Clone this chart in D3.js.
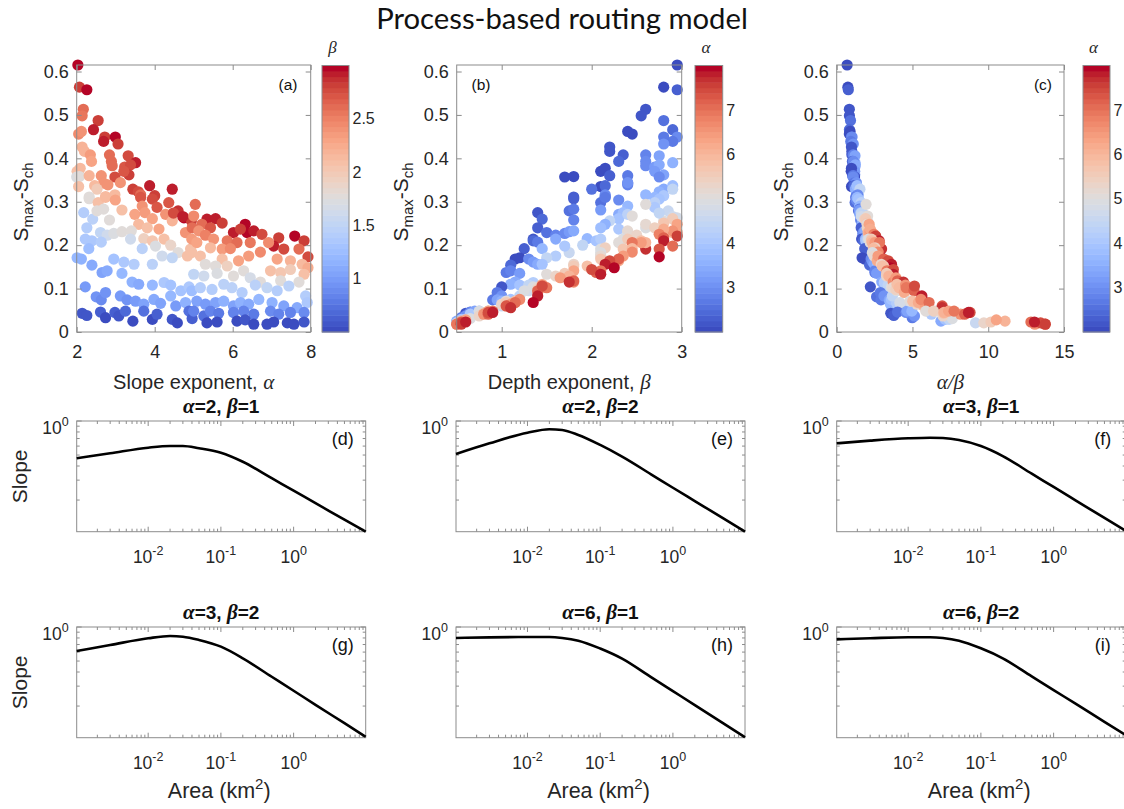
<!DOCTYPE html>
<html>
<head>
<meta charset="utf-8">
<script src="https://cdn.jsdelivr.net/npm/d3@7"></script>
<style>
  body { margin: 0; background: #fff; }
</style>
</head>
<body>
<svg width="1124" height="809"></svg>
<script>
// scatter data: slope exponent (alpha), depth exponent (beta), Smax - Sch
var slopeExp = [
  2.03,2.07,2.26,2.17,2.14,2.55,2.43,2.05,2.12,2.72,2.99,2.69,3.06,2.14,2.20,2.35,2.84,3.32,3.51,2.38,
  2.89,2.91,3.23,3.38,3.34,3.21,2.01,2.09,2.00,2.07,2.32,2.63,2.98,2.69,2.80,3.12,2.05,2.46,2.52,3.44,
  3.58,3.64,3.87,4.00,4.45,2.32,2.74,2.98,
  2.32,2.55,2.74,2.99,3.64,3.94,4.36,4.06,3.68,4.60,4.75,4.94,2.18,2.41,2.52,2.69,2.84,3.16,3.49,3.75,
  3.94,4.28,4.45,3.59,3.81,4.11,4.79,4.96,2.26,2.61,2.78,2.95,3.16,3.40,2.22,2.39,2.63,3.38,3.72,3.94,
  4.24,4.41,4.60,4.84,4.92,3.68,4.02,4.19,4.45,2.31,2.01,2.12,2.39,2.95,3.21,3.47,3.94,2.65,2.78,3.16,
  3.42,3.59,3.94,4.24,4.41,4.67,4.88,2.22,2.50,2.63,2.74,3.12,3.29,3.51,3.72,3.98,4.15,4.41,4.54,4.79,
  2.14,2.26,2.61,2.74,2.98,3.08,3.25,3.44,3.72,3.94,4.06,4.45,4.58,4.88,4.96,4.48,4.72,
  5.04,5.00,5.34,5.56,5.73,5.21,5.43,5.13,5.30,6.02,6.32,6.37,6.54,6.20,6.75,7.18,7.59,7.83,7.05,7.31,
  7.70,7.93,4.95,5.08,5.51,5.86,6.11,6.45,6.92,5.43,5.73,5.94,6.71,4.95,5.17,5.73,6.15,6.41,7.14,7.48,
  7.78,7.93,5.30,5.56,5.86,6.28,6.97,7.23,7.48,7.83,5.00,5.26,5.60,6.02,6.71,6.45,7.23,7.70,4.95,5.17,
  5.47,5.77,5.98,6.24,6.58,6.88,7.14,7.44,7.87,7.91,5.08,5.30,5.56,5.77,6.02,6.20,6.41,6.67,7.01,7.31,
  7.65,5.00,5.26,5.43,5.64,6.02,6.28,6.54,6.97,7.18,7.48,7.83,5.34,5.60,6.11,6.32,6.54,6.88,7.05,7.40,
  7.57,7.83
];
var depthExp = [
  2.95,2.80,2.95,2.60,2.55,2.80,2.90,2.45,2.40,2.80,2.95,2.90,2.80,2.20,2.20,2.35,2.60,2.75,2.90,2.30,
  2.60,2.60,2.70,2.75,2.80,2.70,2.10,2.15,1.70,1.80,2.20,2.40,2.75,2.40,2.40,2.40,2.10,2.15,2.00,2.80,
  2.75,2.60,2.90,2.80,2.90,1.80,2.15,2.15,
  1.80,2.10,2.15,2.30,2.70,2.75,2.70,2.70,2.40,2.85,2.95,2.80,1.40,1.45,1.75,1.80,1.80,2.10,2.30,2.35,
  2.30,2.40,2.20,2.15,2.10,2.30,2.40,2.60,1.40,1.50,1.60,1.70,1.75,1.80,1.35,1.35,1.40,1.60,1.95,2.05,
  2.10,1.90,1.75,2.10,2.10,1.45,1.70,1.60,1.50,1.25,1.20,1.15,1.10,1.30,1.35,1.40,1.45,1.05,1.10,1.20,
  1.15,1.10,1.20,1.35,1.30,1.30,1.35,1.00,0.95,0.90,0.95,1.00,0.95,1.00,1.05,1.10,1.05,1.20,1.00,1.15,
  0.60,0.60,0.65,0.55,0.65,0.60,0.70,0.50,0.75,0.55,0.65,0.60,0.50,0.75,0.65,2.75,2.90,
  2.60,2.45,2.90,2.90,2.80,2.60,2.70,2.40,2.50,2.90,2.95,2.95,2.90,2.80,2.75,2.80,2.95,2.80,2.90,2.75,
  2.60,2.75,2.35,2.30,2.40,2.55,2.60,2.55,2.45,2.15,2.35,2.45,2.45,2.10,2.10,2.10,2.30,2.35,2.30,2.20,
  2.15,2.25,1.80,1.80,1.95,1.80,2.10,2.05,2.00,2.10,1.50,1.60,1.70,1.75,1.80,1.65,1.80,1.75,1.25,1.40,
  1.40,1.45,1.45,1.40,1.45,1.50,1.40,1.45,1.40,1.35,1.05,1.00,1.05,1.15,1.05,1.15,1.10,1.20,1.15,1.05,
  1.10,0.85,0.75,0.85,0.80,0.85,0.85,0.80,0.90,0.85,0.85,0.90,0.55,0.55,0.55,0.60,0.50,0.50,0.55,0.55,
  0.55,0.60
];
var slopeDiff = [
  0.615,0.564,0.558,0.513,0.498,0.487,0.466,0.456,0.462,0.449,0.449,0.439,0.433,0.426,0.416,0.408,0.408,0.406,0.390,0.393,
  0.393,0.383,0.380,0.385,0.362,0.370,0.370,0.377,0.357,0.358,0.360,0.360,0.357,0.343,0.339,0.344,0.335,0.337,0.329,0.329,
  0.323,0.316,0.337,0.314,0.329,0.311,0.312,0.316,
  0.307,0.298,0.310,0.304,0.310,0.306,0.298,0.287,0.290,0.279,0.263,0.256,0.275,0.260,0.279,0.283,0.258,0.281,0.271,0.275,
  0.261,0.271,0.256,0.248,0.240,0.237,0.229,0.240,0.240,0.229,0.223,0.227,0.231,0.233,0.214,0.210,0.207,0.214,0.215,0.210,
  0.214,0.200,0.183,0.175,0.191,0.192,0.198,0.175,0.171,0.192,0.171,0.168,0.154,0.168,0.161,0.156,0.156,0.137,0.141,0.135,
  0.115,0.110,0.108,0.114,0.108,0.095,0.104,0.104,0.081,0.074,0.091,0.083,0.074,0.071,0.064,0.075,0.066,0.083,0.060,0.068,
  0.043,0.038,0.046,0.033,0.045,0.037,0.048,0.025,0.048,0.029,0.041,0.029,0.021,0.048,0.031,0.274,0.266,
  0.294,0.267,0.260,0.261,0.251,0.248,0.240,0.233,0.223,0.229,0.248,0.229,0.233,0.237,0.225,0.217,0.221,0.210,0.198,0.191,
  0.191,0.173,0.214,0.206,0.214,0.210,0.206,0.206,0.206,0.194,0.191,0.192,0.184,0.183,0.175,0.168,0.164,0.175,0.168,0.164,
  0.156,0.148,0.156,0.152,0.152,0.141,0.141,0.137,0.144,0.133,0.133,0.129,0.135,0.129,0.115,0.125,0.118,0.115,0.095,0.102,
  0.098,0.110,0.102,0.091,0.108,0.102,0.095,0.106,0.083,0.068,0.071,0.064,0.068,0.071,0.060,0.068,0.064,0.075,0.068,0.060,
  0.056,0.048,0.037,0.048,0.043,0.045,0.048,0.041,0.048,0.041,0.045,0.045,0.021,0.023,0.025,0.028,0.018,0.018,0.023,0.021,
  0.018,0.023
];

// slope-area curves, panels (d)-(i)
var areaKm2 = [0.00104, 0.003, 0.01, 0.02, 0.03, 0.05, 0.1, 0.2, 0.5, 1, 2, 5, 9.8];
var slopeD = [0.468,0.518,0.581,0.601,0.601,0.574,0.524,0.436,0.312,0.242,0.188,0.134,0.105];
var slopeE = [0.511,0.635,0.788,0.845,0.833,0.752,0.614,0.484,0.338,0.257,0.196,0.137,0.105];
var slopeF = [0.635,0.670,0.703,0.712,0.707,0.679,0.601,0.490,0.342,0.261,0.199,0.139,0.107];
var slopeG = [0.614,0.693,0.795,0.833,0.821,0.768,0.670,0.529,0.363,0.273,0.205,0.141,0.107];
var slopeH = [0.800,0.810,0.815,0.815,0.800,0.757,0.645,0.525,0.360,0.271,0.204,0.140,0.106];
var slopeI = [0.778,0.795,0.811,0.811,0.799,0.757,0.648,0.529,0.366,0.277,0.210,0.145,0.111];

var sans = '"Liberation Sans", Arial, sans-serif';
var serif = '"Liberation Serif", "Times New Roman", serif';
var ink = "#262626", boxCol = "#8c8c8c";

var svg = d3.select("svg");

// Moreland cool-warm colormap, sampled into discrete levels like the matlab colorbar
var cwStops = [
  [59,76,192],[68,90,204],[77,104,215],[87,117,225],[98,130,234],[108,142,241],[119,154,247],
  [130,165,251],[141,176,254],[152,185,255],[163,194,255],[174,201,253],[184,208,249],[194,213,244],
  [204,217,238],[213,219,230],[221,221,221],[229,216,209],[236,211,197],[241,204,185],[245,196,173],
  [247,187,160],[247,177,148],[247,166,135],[244,154,123],[241,141,111],[236,127,99],[229,112,88],
  [222,96,77],[213,80,66],[203,62,56],[192,40,47],[180,4,38]
];
var nLev = 48;
var cw = d3.scaleLinear()
  .domain(cwStops.map(function(d, i) { return i / (cwStops.length - 1); }))
  .range(cwStops.map(function(c) { return "rgb(" + c.join(",") + ")"; }))
  .interpolate(d3.interpolateRgb);
function cmap(t) {
  var k = Math.max(0, Math.min(nLev - 1, Math.floor(t * nLev)));
  return cw(k / (nLev - 1));
}

function styleAxis(sel, fs) {
  sel.select(".domain").remove();
  sel.selectAll(".tick line").attr("stroke", boxCol);
  sel.attr("font-family", sans).attr("font-size", fs);
  sel.selectAll(".tick text").attr("fill", ink);
}

// title
var title = svg.append("text")
  .attr("x", 562).attr("y", 29)
  .attr("text-anchor", "middle")
  .attr("font-family", 'Lato, "Open Sans", sans-serif')
  .attr("font-size", 28)
  .attr("fill", "#111")
  .text("Process-based routing model");
var tw = title.node().getComputedTextLength();
title.attr("font-size", 28 * 372 / tw);

// ---------- scatter panels (a)-(c) ----------
var pts = slopeExp.map(function(a, i) { return { a: a, b: depthExp[i], s: slopeDiff[i] }; });
var yS = d3.scaleLinear([0, 0.615], [332, 65]);

function scatterPanel(p) {
  var g = svg.append("g");
  var x = d3.scaleLinear(p.xDomain, [p.left, p.right]);
  var c = d3.scaleLinear(p.cDomain, [0, 1]).clamp(true);

  g.selectAll("circle")
    .data(pts)
    .join("circle")
      .attr("cx", function(d) { return x(p.xv(d)); })
      .attr("cy", function(d) { return yS(d.s); })
      .attr("r", 5.6)
      .attr("fill", function(d) { return cmap(c(p.cv(d))); });

  g.append("rect")
    .attr("x", p.left).attr("y", 65)
    .attr("width", p.right - p.left).attr("height", 332 - 65)
    .attr("fill", "none").attr("stroke", boxCol);

  var yTicks = [0, 0.1, 0.2, 0.3, 0.4, 0.5, 0.6];
  var xb = g.append("g").attr("transform", "translate(0,332)")
    .call(d3.axisBottom(x).tickValues(p.xTicks).tickSize(-5).tickPadding(13).tickFormat(function(d) { return String(d); }));
  styleAxis(xb, 18);
  var xt = g.append("g").attr("transform", "translate(0,65)")
    .call(d3.axisTop(x).tickValues(p.xTicks).tickSize(-5).tickFormat(""));
  styleAxis(xt, 10);
  var yl = g.append("g").attr("transform", "translate(" + p.left + ",0)")
    .call(d3.axisLeft(yS).tickValues(yTicks).tickSize(-5).tickPadding(8).tickFormat(function(d) { return String(d); }));
  styleAxis(yl, 18);
  var yr = g.append("g").attr("transform", "translate(" + p.right + ",0)")
    .call(d3.axisRight(yS).tickValues(yTicks).tickSize(-5).tickFormat(""));
  styleAxis(yr, 10);

  // y label S_max - S_ch
  var yt = g.append("text")
    .attr("transform", "translate(" + (p.left - 49) + ",202) rotate(-90)")
    .attr("text-anchor", "middle")
    .attr("font-family", sans).attr("font-size", 21).attr("fill", ink);
  yt.append("tspan").text("S");
  yt.append("tspan").attr("font-size", 15).attr("dy", 5).text("max");
  yt.append("tspan").attr("dy", -5).text("-S");
  yt.append("tspan").attr("font-size", 15).attr("dy", 5).text("ch");

  // x label
  var xl = g.append("text")
    .attr("x", (p.left + p.right) / 2).attr("y", 389)
    .attr("text-anchor", "middle")
    .attr("font-family", sans).attr("font-size", 20).attr("fill", ink);
  p.xlabel.forEach(function(part) {
    var t = xl.append("tspan").text(part.t);
    if (part.greek) t.attr("font-family", serif).attr("font-style", "italic").attr("font-size", 21);
  });

  // panel tag
  g.append("text")
    .attr("x", p.tagX).attr("y", 90)
    .attr("text-anchor", "middle")
    .attr("font-family", sans).attr("font-size", 15.5).attr("fill", "#111")
    .text(p.tag);

  // colorbar
  var cbTop = 65.5, cbBot = 332;
  var bandH = (cbBot - cbTop) / nLev;
  g.append("g").selectAll("rect")
    .data(d3.range(nLev))
    .join("rect")
      .attr("x", p.cbLeft).attr("width", p.cbRight - p.cbLeft)
      .attr("y", function(k) { return cbBot - (k + 1) * bandH; })
      .attr("height", bandH + 0.5)
      .attr("fill", function(k) { return cw(k / (nLev - 1)); });
  g.append("rect")
    .attr("x", p.cbLeft).attr("y", cbTop)
    .attr("width", p.cbRight - p.cbLeft).attr("height", cbBot - cbTop)
    .attr("fill", "none").attr("stroke", boxCol);
  var cy = d3.scaleLinear(p.cDomain, [cbBot, cbTop]);
  g.append("g").selectAll("text")
    .data(p.cTicks)
    .join("text")
      .attr("x", p.cbRight + 3.5)
      .attr("y", function(d) { return cy(d); })
      .attr("dy", "0.35em")
      .attr("font-family", sans).attr("font-size", 16).attr("fill", ink)
      .text(function(d) { return d; });
  g.append("text")
    .attr("x", (p.cbLeft + p.cbRight) / 2 - 3).attr("y", 53)
    .attr("text-anchor", "middle")
    .attr("font-family", serif).attr("font-style", "italic").attr("font-size", 17).attr("fill", ink)
    .text(p.clabel);
}

scatterPanel({
  left: 76.7, right: 310.7, xDomain: [2, 8], xTicks: [2, 4, 6, 8],
  xv: function(d) { return d.a; }, cv: function(d) { return d.b; },
  cDomain: [0.5, 3], cTicks: [1, 1.5, 2, 2.5], cbLeft: 322, cbRight: 349, clabel: "β",
  xlabel: [{ t: "Slope exponent,  " }, { t: "α", greek: true }], tag: "(a)", tagX: 288
});
scatterPanel({
  left: 456.7, right: 681.7, xDomain: [0.5, 3], xTicks: [1, 2, 3],
  xv: function(d) { return d.b; }, cv: function(d) { return d.a; },
  cDomain: [2, 8], cTicks: [3, 4, 5, 6, 7], cbLeft: 695, cbRight: 722.7, clabel: "α",
  xlabel: [{ t: "Depth exponent,  " }, { t: "β", greek: true }], tag: "(b)", tagX: 481
});
scatterPanel({
  left: 836.7, right: 1064, xDomain: [0, 15], xTicks: [0, 5, 10, 15],
  xv: function(d) { return d.a / d.b; }, cv: function(d) { return d.a; },
  cDomain: [2, 8], cTicks: [3, 4, 5, 6, 7], cbLeft: 1083, cbRight: 1110, clabel: "α",
  xlabel: [{ t: "α/β", greek: true }], tag: "(c)", tagX: 1043
});

// ---------- slope-area panels (d)-(i) ----------
var pw = 289, ph = 110.7;

function curvePanel(p) {
  var g = svg.append("g");
  var x = d3.scaleLog([0.00104, 9.8], [p.left, p.left + pw]);
  var y = d3.scaleLog([0.105, 1], [p.top + ph, p.top]);
  var bot = p.top + ph, right = p.left + pw;

  g.append("rect")
    .attr("x", p.left).attr("y", p.top).attr("width", pw).attr("height", ph)
    .attr("fill", "none").attr("stroke", boxCol);

  // x ticks (major and minor, inside, bottom and top)
  var xt = [];
  [-3, -2, -1, 0].forEach(function(e) {
    for (var k = 1; k <= 9; k++) {
      var v = k * Math.pow(10, e);
      if (v >= 0.00104 && v <= 9.8) xt.push({ v: v, major: k === 1 });
    }
  });
  g.append("g").selectAll("path")
    .data(xt)
    .join("path")
      .attr("d", function(d) {
        var xx = x(d.v), L = d.major ? 5 : 3;
        return "M" + xx + "," + bot + "v" + (-L) + "M" + xx + "," + p.top + "v" + L;
      })
      .attr("stroke", boxCol).attr("fill", "none");
  var yt = [0.2, 0.3, 0.4, 0.5, 0.6, 0.7, 0.8, 0.9, 1];
  g.append("g").selectAll("path")
    .data(yt)
    .join("path")
      .attr("d", function(v) {
        var yy = y(v), L = v === 1 ? 5 : 3;
        return "M" + p.left + "," + yy + "h" + L + "M" + right + "," + yy + "h" + (-L);
      })
      .attr("stroke", boxCol).attr("fill", "none");

  // x tick labels 10^n
  g.append("g").selectAll("text")
    .data([-2, -1, 0])
    .join("text")
      .attr("x", function(e) { return x(Math.pow(10, e)); })
      .attr("y", bot + 31.5)
      .attr("text-anchor", "middle")
      .attr("font-family", sans).attr("font-size", 17.5).attr("fill", ink)
      .each(function(e) {
        var t = d3.select(this);
        t.append("tspan").text("10");
        t.append("tspan").attr("font-size", 12.5).attr("dy", -8).text(e < 0 ? "-" + (-e) : e);
      });
  var y0 = g.append("text")
    .attr("x", p.left - 8).attr("y", p.top + 13)
    .attr("text-anchor", "end")
    .attr("font-family", sans).attr("font-size", 17.5).attr("fill", ink);
  y0.append("tspan").text("10");
  y0.append("tspan").attr("font-size", 12.5).attr("dy", -8).text("0");

  // curve
  var line = d3.line()
    .x(function(d) { return x(d[0]); })
    .y(function(d) { return y(d[1]); })
    .curve(d3.curveMonotoneX);
  g.append("path")
    .datum(areaKm2.map(function(a, i) { return [a, p.slopes[i]]; }))
    .attr("d", line)
    .attr("fill", "none").attr("stroke", "#000").attr("stroke-width", 2.6);

  // title
  var tt = g.append("text")
    .attr("x", p.left + pw / 2).attr("y", p.top - 8)
    .attr("text-anchor", "middle")
    .attr("font-family", sans).attr("font-weight", "bold").attr("font-size", 19).attr("fill", "#111");
  tt.append("tspan").attr("font-family", serif).attr("font-style", "italic").attr("font-size", 21).text("α");
  tt.append("tspan").text("=" + p.a + ", ");
  tt.append("tspan").attr("font-family", serif).attr("font-style", "italic").attr("font-size", 21).text("β");
  tt.append("tspan").text("=" + p.b);

  g.append("text")
    .attr("x", p.left + 266).attr("y", p.top + 24)
    .attr("text-anchor", "middle")
    .attr("font-family", sans).attr("font-size", 18).attr("fill", "#111")
    .text(p.tag);

  if (p.ylab) {
    g.append("text")
      .attr("transform", "translate(27," + (p.top + ph / 2) + ") rotate(-90)")
      .attr("text-anchor", "middle")
      .attr("font-family", sans).attr("font-size", 21).attr("fill", ink)
      .text("Slope");
  }
  if (p.xlab) {
    var xl = g.append("text")
      .attr("x", p.left + pw / 2 - 2).attr("y", 798)
      .attr("text-anchor", "middle")
      .attr("font-family", sans).attr("font-size", 21.5).attr("fill", ink);
    xl.append("tspan").text("Area (km");
    xl.append("tspan").attr("font-size", 15).attr("dy", -9).text("2");
    xl.append("tspan").attr("dy", 9).text(")");
  }
}

curvePanel({ left: 76.7, top: 421, slopes: slopeD, a: "2", b: "1", tag: "(d)", ylab: true });
curvePanel({ left: 456, top: 421, slopes: slopeE, a: "2", b: "2", tag: "(e)" });
curvePanel({ left: 836.7, top: 421, slopes: slopeF, a: "3", b: "1", tag: "(f)" });
curvePanel({ left: 76.7, top: 627, slopes: slopeG, a: "3", b: "2", tag: "(g)", ylab: true, xlab: true });
curvePanel({ left: 456, top: 627, slopes: slopeH, a: "6", b: "1", tag: "(h)", xlab: true });
curvePanel({ left: 836.7, top: 627, slopes: slopeI, a: "6", b: "2", tag: "(i)", xlab: true });
</script>
</body>
</html>
